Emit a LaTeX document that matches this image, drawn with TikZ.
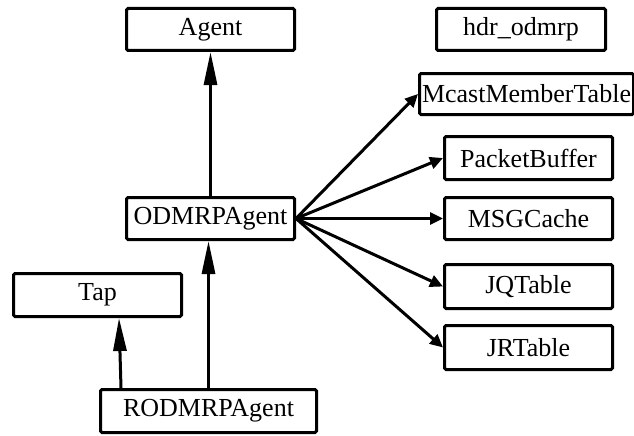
\documentclass[tikz,border=0pt]{standalone}
\usepackage{fontspec}
\setmainfont{Liberation Serif}
\usetikzlibrary{arrows.meta}
\begin{document}
\begin{tikzpicture}[x=1pt,y=-1pt,
  cls/.style={draw,line width=3pt,rounded corners=1.5pt,fill=white,
    inner sep=1pt,font=\fontsize{26}{30}\selectfont,
    minimum width=168pt,minimum height=42pt},
  inherit/.style={line width=3pt,-{Triangle[length=33pt,width=13pt]}},
  uses/.style={line width=3pt,-{Triangle[length=13pt,width=12pt]}}]
\useasboundingbox (0,0) rectangle (634,436);
% classes
\node[cls] (agent) at (210.5,29.5) {Agent};
\node[cls,minimum width=169pt] (hdr) at (521,29.5) {hdr\_odmrp};
\node[cls,minimum width=214pt,minimum height=41pt] (mcast) at (526.5,94) {McastMemberTable};
\node[cls,minimum height=43pt] (pbuf) at (528.5,158) {PacketBuffer};
\node[cls] (msg) at (528.5,218.5) {MSGCache};
\node[cls,minimum height=44pt] (jq) at (528.5,286.5) {JQTable};
\node[cls,minimum height=44pt] (jr) at (528.5,347.5) {JRTable};
\node[cls] (odmrp) at (210.5,218.5) {ODMRPAgent};
\node[cls,minimum height=43pt] (tap) at (97.5,295) {Tap};
\node[cls,minimum width=216pt,minimum height=43pt] (rod) at (208.5,411) {RODMRPAgent};
% inheritance
\draw[inherit] (odmrp.north) -- (agent.south);
\draw[inherit] (rod.north) -- (rod.north |- odmrp.south);
\draw[inherit] ([xshift=-87.5pt]rod.north) -- ([xshift=21.5pt]tap.south);
% associations
\foreach \t in {mcast,pbuf,msg,jq,jr}
  \draw[uses] (odmrp.east) -- (\t.west);
\end{tikzpicture}
\end{document}
